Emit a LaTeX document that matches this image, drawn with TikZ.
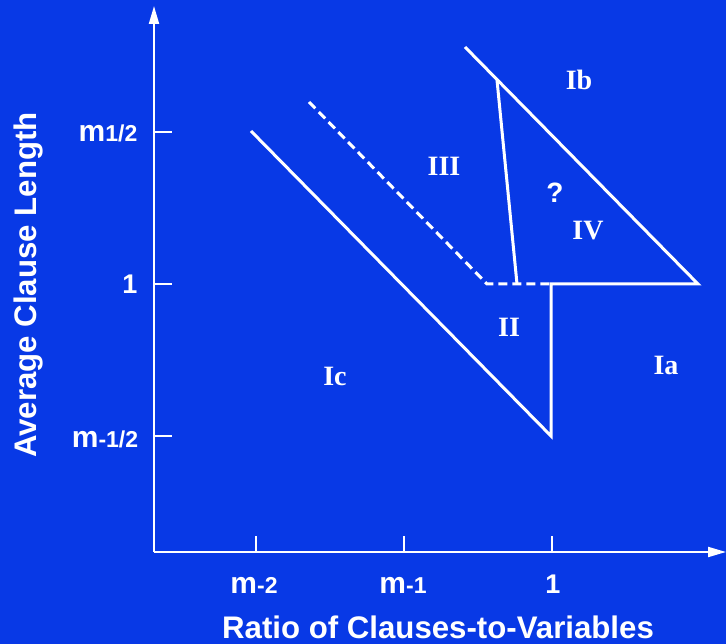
\documentclass[tikz,border=0pt]{standalone}
\usepackage{fontspec}
\setmainfont{Liberation Serif}
\setsansfont{Liberation Sans}
\usetikzlibrary{arrows.meta}

\definecolor{slideblue}{RGB}{8,57,230}
\newcommand{\mpow}[1]{m{\fontsize{23}{23}\selectfont #1}}

\begin{document}
\begin{tikzpicture}[
    x=1pt, y=-1pt,
    axis/.style={line width=2pt, draw=white, -{Triangle[length=18pt, width=10pt]}},
    tickmark/.style={line width=1.5pt, draw=white},
    border/.style={line width=3pt, draw=white, line join=miter},
    guess border/.style={border, dash pattern=on 9pt off 5pt},
    tick lbl/.style={text=white, font=\sffamily\bfseries\fontsize{30}{30}\selectfont, anchor=base, inner sep=0pt},
    region/.style={text=white, font=\rmfamily\bfseries\fontsize{28}{28}\selectfont, anchor=base, inner sep=0pt},
    axis title/.style={text=white, font=\sffamily\bfseries\fontsize{31.2}{31.2}\selectfont, anchor=base, inner sep=0pt}
]

% Fondo
\fill[slideblue] (0,0) rectangle (726,644);
\useasboundingbox (0,0) rectangle (726,644);

% ------------------------------------------------------------------------------
% 1. EJES
% ------------------------------------------------------------------------------
\coordinate (origin) at (154,552);
\coordinate (ytop) at (154,6);
\coordinate (xend) at (726,552);
\draw[axis] (origin) -- (ytop);
\draw[axis] (origin) -- (xend);

% Marcas del eje Y
\foreach \y/\name in {132/half, 284/one, 436/mhalf} {
    \coordinate (y\name) at (154,\y);
    \draw[tickmark] (y\name) -- ++(18,0);
}
% Marcas del eje X
\foreach \x/\name in {256/mtwo, 404/mone, 552/one} {
    \coordinate (x\name) at (\x,552);
    \draw[tickmark] (x\name) -- ++(0,-16);
}

% Etiquetas de las marcas
\node[tick lbl] (lhalf)  at (108,142) {\mpow{1/2}};
\node[tick lbl, font=\sffamily\bfseries\fontsize{27}{27}\selectfont] (lone) at (130,294) {1};
\node[tick lbl] (lmhalf) at (105,447) {\mpow{-1/2}};
\node[tick lbl] (lmtwo)  at (254,593) {\mpow{-2}};
\node[tick lbl] (lmone)  at (403,593) {\mpow{-1}};
\node[tick lbl, font=\sffamily\bfseries\fontsize{27}{27}\selectfont] (lxone) at (553,593) {1};

% Titulos de los ejes
\node[axis title] (xtitle) at (438,638) {Ratio of Clauses-to-Variables};
\node[axis title, rotate=90] (ytitle) at (36,285) {Average Clause Length};

% ------------------------------------------------------------------------------
% 2. FRONTERAS DE LAS REGIONES
% ------------------------------------------------------------------------------
\coordinate (lowstart) at (251,131);
\coordinate (lowtip)   at (551,436);
\coordinate (step)     at (551,284);
\coordinate (rightpt)  at (698,284);
\coordinate (highend)  at (465,47);
\coordinate (wedgetop) at (497,80);
\coordinate (wedgebot) at (517,284);
\coordinate (dashtop)  at (309,102);
\coordinate (dashcorner) at (487,284);

\draw[border] (lowstart) -- (lowtip) -- (step) -- (rightpt) -- (highend);
\draw[border] (wedgetop) -- (wedgebot);
\draw[guess border] (dashtop) -- (dashcorner) -- (step);

% ------------------------------------------------------------------------------
% 3. ETIQUETAS DE LAS REGIONES
% ------------------------------------------------------------------------------
\node[region] (ib)  at (579,90)  {Ib};
\node[region] (iii) at (444,176) {III};
\node[region, font=\sffamily\bfseries\fontsize{28}{28}\selectfont] (unk) at (555,203) {?};
\node[region] (iv)  at (588,240) {IV};
\node[region] (ii)  at (509,337) {II};
\node[region] (ic)  at (335,385) {Ic};
\node[region] (ia)  at (666,375) {Ia};

\end{tikzpicture}
\end{document}
